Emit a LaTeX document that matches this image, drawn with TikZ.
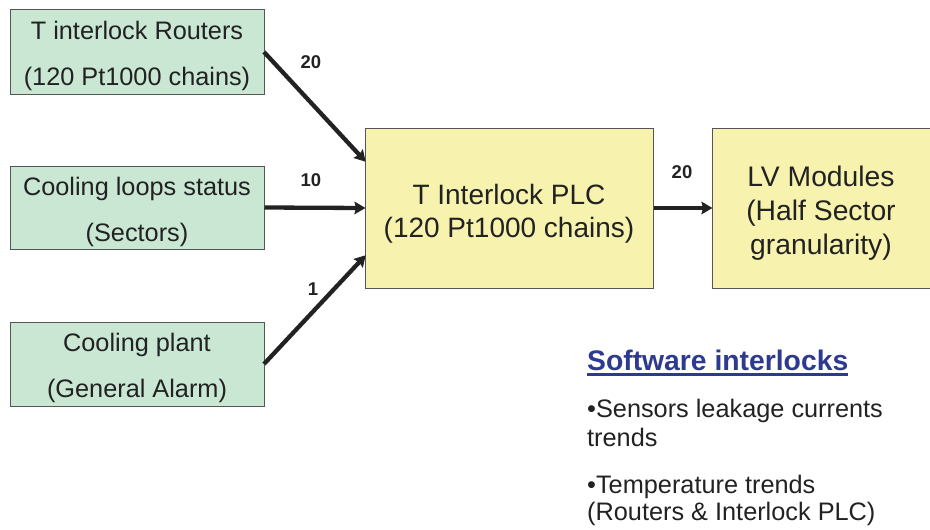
\documentclass[tikz,border=0pt]{standalone}
\usepackage{fontspec}
\setmainfont{Liberation Sans}
\usetikzlibrary{arrows.meta}
\definecolor{srcfill}{HTML}{C9E7D3}
\definecolor{plcfill}{HTML}{F7F2AE}
\definecolor{boxline}{HTML}{555555}
\definecolor{titleblue}{HTML}{2E3A8F}
\definecolor{txt}{HTML}{222222}
\tikzset{
  srcbox/.style={draw=boxline, line width=1pt, fill=srcfill, minimum width=254pt, minimum height=85pt, inner sep=0pt},
  srctext/.style={align=center, text=txt, inner sep=0pt, font=\fontsize{25.3}{46}\selectfont},
  plcbox/.style={draw=boxline, line width=1pt, fill=plcfill, minimum height=160pt, inner sep=0pt},
  plctext/.style={align=center, text=txt, inner sep=0pt},
  feed/.style={line width=4.3pt, draw=txt, -{Stealth[length=11pt,width=12.5pt,inset=1.5pt]}, shorten >=-1pt},
  count/.style={font=\fontsize{18.5}{18.5}\selectfont\bfseries, text=txt, inner sep=0pt},
  note/.style={anchor=west, align=left, inner sep=0pt, text=txt, font=\fontsize{25.3}{29}\selectfont}
}
\begin{document}
\begin{tikzpicture}[x=1pt, y=-1pt]
  \useasboundingbox (0,0) rectangle (930,530);

  % input sources
  \node[srcbox] (routers) at (137,51.5) {};
  \node[srcbox, minimum height=83pt] (loops) at (137,207.5) {};
  \node[srcbox, minimum height=84pt] (plant) at (137,364) {};
  \node[srctext] (routersText) at ([yshift=-4pt]routers.center) {T interlock Routers\\(120 Pt1000 chains)};
  \node[srctext] (loopsText) at ([yshift=-4pt]loops.center) {Cooling loops status\\(Sectors)};
  \node[srctext] (plantText) at ([yshift=-4pt]plant.center) {Cooling plant\\(General Alarm)};

  % PLC and LV modules
  \node[plcbox, minimum width=288pt] (plc) at (509,208) {};
  \node[plcbox, minimum width=218pt] (lv) at (821,208) {};
  \node[plctext, font=\fontsize{28}{33}\selectfont] (plcText) at ([yshift=-6pt]plc.center) {T Interlock PLC\\(120 Pt1000 chains)};
  \node[plctext, font=\fontsize{28.3}{34}\selectfont] (lvText) at ([yshift=-5pt]lv.center) {LV Modules\\(Half Sector\\granularity)};

  % signal connections
  \coordinate (routersOut) at (264,52);
  \coordinate (plantOut) at (264,364);
  \coordinate (plcInTop) at (365,161);
  \coordinate (plcInBot) at (365,256);
  \draw[feed] (routersOut) -- (plcInTop);
  \draw[feed] (loops.east) -- (plc.west);
  \draw[feed] (plantOut) -- (plcInBot);
  \draw[feed] (plc.east) -- (lv.west);

  \node[count] (n20a) at (311,62) {20};
  \node[count] (n10) at (311,180) {10};
  \node[count] (n1) at (313,289) {1};
  \node[count] (n20b) at (682,172) {20};

  % software interlocks
  \node[anchor=west, inner sep=0pt, text=titleblue, font=\fontsize{28.3}{28.3}\selectfont\bfseries] (swtitle) at (587,360) {Software interlocks};
  \draw[titleblue, line width=2.4pt] (swtitle.west |- 0,374.5) -- (swtitle.east |- 0,374.5);
  \node[note] (leak) at (587,422.5) {•Sensors leakage currents\\trends};
  \node[note, font=\fontsize{25.3}{27}\selectfont] (temp) at (587,500) {•Temperature trends\\(Routers \& Interlock PLC)};
\end{tikzpicture}
\end{document}
